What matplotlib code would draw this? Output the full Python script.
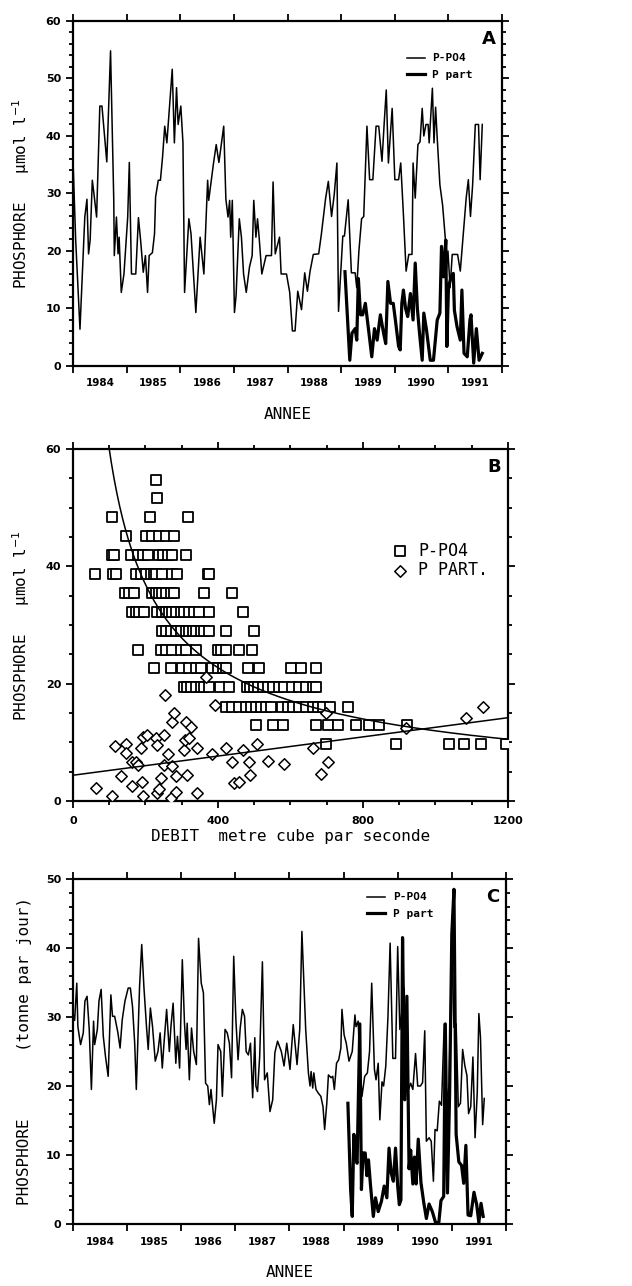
import numpy as np
import matplotlib
matplotlib.use('Agg')
import matplotlib.pyplot as plt
from matplotlib.ticker import MultipleLocator, FixedLocator, NullFormatter

# ---- Panel A : concentration (umol/l) vs time ----
a_po4_year = [1984.00, 1984.05, 1984.13, 1984.20, 1984.22, 1984.26, 1984.29, 1984.32, 1984.36, 1984.39,
              1984.44, 1984.46, 1984.50, 1984.54, 1984.63, 1984.70, 1984.76, 1984.77, 1984.81, 1984.84,
              1984.86, 1984.90, 1984.95, 1985.02, 1985.05, 1985.09, 1985.17, 1985.22, 1985.26, 1985.31,
              1985.35, 1985.39, 1985.42, 1985.48, 1985.52, 1985.54, 1985.59, 1985.63, 1985.67, 1985.71,
              1985.75, 1985.85, 1985.89, 1985.93, 1985.96, 1986.01, 1986.05, 1986.08, 1986.16, 1986.20,
              1986.29, 1986.37, 1986.44, 1986.51, 1986.53, 1986.62, 1986.67, 1986.72, 1986.81, 1986.85,
              1986.89, 1986.92, 1986.94, 1986.97, 1987.01, 1987.04, 1987.10, 1987.14, 1987.18, 1987.23,
              1987.29, 1987.34, 1987.37, 1987.41, 1987.44, 1987.47, 1987.52, 1987.60, 1987.70, 1987.73,
              1987.77, 1987.85, 1987.88, 1987.98, 1988.04, 1988.09, 1988.14, 1988.19, 1988.26, 1988.32,
              1988.37, 1988.42, 1988.48, 1988.58, 1988.63, 1988.71, 1988.76, 1988.82, 1988.87, 1988.92,
              1988.95, 1989.03, 1989.06, 1989.13, 1989.19, 1989.26, 1989.29, 1989.33, 1989.38, 1989.42,
              1989.48, 1989.53, 1989.59, 1989.65, 1989.70, 1989.76, 1989.80, 1989.84, 1989.88, 1989.95,
              1990.00, 1990.07, 1990.11, 1990.16, 1990.21, 1990.26, 1990.32, 1990.34, 1990.38, 1990.43,
              1990.47, 1990.51, 1990.54, 1990.58, 1990.62, 1990.64, 1990.66, 1990.70, 1990.73, 1990.76,
              1990.79, 1990.84, 1990.89, 1990.94, 1990.96, 1990.99, 1991.03, 1991.07, 1991.12, 1991.17,
              1991.22, 1991.28, 1991.33, 1991.37, 1991.41, 1991.45, 1991.50, 1991.56, 1991.59, 1991.63]
a_po4_val = [35.8, 21.9, 6.4, 21.9, 25.9, 29.0, 19.5, 21.9, 32.3, 30.0,
             25.9, 32.3, 45.2, 45.2, 35.5, 54.8, 28.8, 19.2, 25.9, 19.5,
             22.4, 12.8, 16.0, 25.9, 35.4, 16.0, 16.0, 25.8, 21.9, 16.3,
             19.2, 12.8, 19.2, 19.7, 23.0, 29.4, 32.3, 32.3, 36.4, 41.7,
             38.8, 51.6, 38.8, 48.4, 42.0, 45.2, 38.8, 12.8, 25.6, 23.0,
             9.3, 22.4, 16.0, 32.3, 28.8, 35.3, 38.5, 35.4, 41.7, 29.0,
             25.9, 28.8, 22.4, 28.8, 9.3, 12.2, 25.6, 22.4, 16.0, 12.8,
             17.2, 19.2, 28.8, 22.4, 25.6, 22.4, 16.0, 19.2, 19.2, 32.0,
             19.5, 22.4, 16.0, 16.0, 12.8, 6.1, 6.1, 13.0, 9.8, 16.2,
             13.0, 16.5, 19.4, 19.5, 22.9, 29.2, 32.1, 26.0, 29.8, 35.3,
             9.5, 22.6, 22.6, 28.9, 16.2, 16.2, 13.6, 20.0, 25.6, 26.0,
             41.7, 32.4, 32.4, 41.7, 41.7, 35.6, 42.0, 48.0, 35.3, 44.8,
             32.4, 32.4, 35.3, 26.3, 16.5, 19.4, 19.4, 35.3, 29.2, 38.5,
             39.0, 44.8, 40.0, 42.0, 42.0, 38.8, 42.0, 48.3, 38.8, 45.0,
             39.6, 31.5, 28.0, 22.3, 16.5, 20.0, 13.6, 19.4, 19.4, 19.4,
             16.5, 23.4, 29.2, 32.4, 26.0, 31.5, 42.0, 42.0, 32.4, 42.0]

a_part_year = [1989.07, 1989.16, 1989.20, 1989.26, 1989.29, 1989.32, 1989.36, 1989.40, 1989.45, 1989.51,
               1989.57, 1989.62, 1989.67, 1989.73, 1989.79, 1989.83, 1989.87, 1989.92, 1989.97, 1990.01,
               1990.07, 1990.10, 1990.13, 1990.16, 1990.20, 1990.24, 1990.29, 1990.34, 1990.38, 1990.42,
               1990.46, 1990.51, 1990.54, 1990.59, 1990.66, 1990.72, 1990.79, 1990.84, 1990.87, 1990.91,
               1990.95, 1990.97, 1991.00, 1991.05, 1991.09, 1991.11, 1991.16, 1991.22, 1991.25, 1991.29,
               1991.35, 1991.40, 1991.42, 1991.47, 1991.52, 1991.57, 1991.63]
a_part_val = [16.4, 1.0, 5.7, 6.5, 4.5, 15.2, 8.9, 8.9, 10.9, 6.3,
              1.6, 6.5, 4.5, 8.9, 5.7, 3.9, 14.7, 10.9, 10.9, 8.0,
              3.4, 2.8, 10.9, 13.2, 10.0, 8.6, 12.6, 8.0, 17.9, 10.0,
              5.7, 1.0, 9.2, 6.3, 1.0, 1.0, 8.0, 9.2, 20.8, 15.5,
              21.9, 3.4, 13.8, 15.5, 16.1, 9.7, 6.8, 4.5, 13.2, 2.2,
              1.6, 8.0, 8.9, 0.5, 6.5, 1.0, 2.2]

# ---- Panel B : concentration vs discharge ----
b_po4_debit = [228, 233, 107, 212, 317, 145, 201, 219, 238, 256, 279,
               109, 112, 159, 180, 193, 208, 236, 249, 261, 274, 311,
               61, 110, 118, 175, 187, 201, 215, 224, 230, 247, 274, 286, 373, 376,
               144, 155, 169, 219, 228, 238, 247, 256, 270, 279, 362, 440,
               164, 173, 182, 196, 233, 247, 256, 265, 274, 284, 297, 307, 320, 334, 348, 376, 468,
               247, 256, 270, 284, 297, 311, 320, 330, 339, 353, 362, 376, 422, 500,
               180, 242, 256, 274, 297, 311, 339, 399, 408, 422, 459, 495,
               224, 270, 302, 320, 339, 353, 385, 399, 413, 422, 482, 514, 601, 629, 670,
               307, 316, 325, 339, 353, 362, 376, 405, 431, 479, 488, 500, 510, 523, 537, 551,
               569, 583, 604, 624, 643, 663, 672,
               422, 440, 459, 477, 491, 505, 518, 532, 546, 578, 592, 606, 624, 643, 663, 676,
               690, 708, 759,
               505, 551, 580, 670, 703, 731, 781, 818, 845, 921,
               698, 892, 1039, 1080, 1126, 1195]
b_po4_conc = [54.8, 51.6, 48.4, 48.4, 48.4, 45.2, 45.2, 45.2, 45.2, 45.2, 45.2,
              41.9, 41.9, 41.9, 41.9, 41.9, 41.9, 41.9, 41.9, 41.9, 41.9, 41.9,
              38.7, 38.7, 38.7, 38.7, 38.7, 38.7, 38.7, 38.7, 38.7, 38.7, 38.7, 38.7, 38.7, 38.7,
              35.5, 35.5, 35.5, 35.5, 35.5, 35.5, 35.5, 35.5, 35.5, 35.5, 35.5, 35.5,
              32.3, 32.3, 32.3, 32.3, 32.3, 32.3, 32.3, 32.3, 32.3, 32.3, 32.3, 32.3, 32.3, 32.3, 32.3, 32.3, 32.3,
              29.0, 29.0, 29.0, 29.0, 29.0, 29.0, 29.0, 29.0, 29.0, 29.0, 29.0, 29.0, 29.0, 29.0,
              25.8, 25.8, 25.8, 25.8, 25.8, 25.8, 25.8, 25.8, 25.8, 25.8, 25.8, 25.8,
              22.6, 22.6, 22.6, 22.6, 22.6, 22.6, 22.6, 22.6, 22.6, 22.6, 22.6, 22.6, 22.6, 22.6, 22.6,
              19.4, 19.4, 19.4, 19.4, 19.4, 19.4, 19.4, 19.4, 19.4, 19.4, 19.4, 19.4, 19.4, 19.4, 19.4, 19.4,
              19.4, 19.4, 19.4, 19.4, 19.4, 19.4, 19.4,
              16.1, 16.1, 16.1, 16.1, 16.1, 16.1, 16.1, 16.1, 16.1, 16.1, 16.1, 16.1, 16.1, 16.1, 16.1, 16.1,
              16.1, 16.1, 16.1,
              12.9, 12.9, 12.9, 12.9, 12.9, 12.9, 12.9, 12.9, 12.9, 12.9,
              9.7, 9.7, 9.7, 9.7, 9.7, 9.7]

b_part_debit = [63, 107, 116, 132, 147, 145, 162, 164, 175, 180, 187, 190, 194, 194, 203,
                230, 233, 233, 238, 242, 251, 251, 254, 263, 270, 273, 274, 279, 284, 284,
                307, 309, 313, 316, 320, 325, 343, 343, 367, 383, 392, 422, 438, 445, 457,
                468, 486, 488, 507, 537, 583, 661, 684, 698, 703, 919, 1085, 1131]
b_part_conc = [2.3, 0.9, 9.4, 4.2, 9.8, 8.2, 6.7, 2.6, 6.7, 6.1, 9.0, 3.3, 0.9, 11.0, 11.3,
               10.7, 9.6, 1.4, 2.0, 3.9, 11.3, 6.1, 18.1, 8.1, 0.5, 5.9, 13.5, 15.0, 4.2, 1.6,
               8.7, 10.4, 13.5, 4.4, 10.7, 12.7, 9.0, 1.3, 21.2, 8.1, 16.4, 9.0, 6.7, 3.1, 3.3,
               8.7, 6.7, 4.4, 9.7, 6.9, 6.3, 9.0, 4.6, 15.0, 6.7, 12.4, 14.1, 16.0]

# fitted curves
po4_fit_coef, po4_fit_exp = 1507.0, -0.70      # C = a * Q^b
part_fit_icpt, part_fit_slope = 4.4, 0.00817   # C = a + b * Q

# ---- Panel C : flux (tonne/jour) vs time ----
c_po4_year = [1984.00, 1984.03, 1984.07, 1984.09, 1984.14, 1984.19, 1984.22, 1984.26, 1984.30, 1984.34,
              1984.38, 1984.40, 1984.45, 1984.48, 1984.52, 1984.56, 1984.60, 1984.65, 1984.70, 1984.73,
              1984.77, 1984.83, 1984.87, 1984.91, 1984.96, 1985.02, 1985.06, 1985.10, 1985.14, 1985.17,
              1985.23, 1985.27, 1985.31, 1985.36, 1985.39, 1985.43, 1985.47, 1985.52, 1985.57, 1985.61,
              1985.65, 1985.68, 1985.73, 1985.78, 1985.81, 1985.85, 1985.90, 1985.93, 1985.97, 1986.02,
              1986.06, 1986.09, 1986.11, 1986.15, 1986.19, 1986.23, 1986.28, 1986.32, 1986.37, 1986.41,
              1986.45, 1986.49, 1986.52, 1986.55, 1986.61, 1986.65, 1986.68, 1986.73, 1986.76, 1986.81,
              1986.85, 1986.89, 1986.93, 1986.97, 1987.01, 1987.05, 1987.09, 1987.13, 1987.17, 1987.20,
              1987.24, 1987.28, 1987.32, 1987.36, 1987.38, 1987.41, 1987.45, 1987.50, 1987.54, 1987.59,
              1987.64, 1987.69, 1987.73, 1987.78, 1987.85, 1987.90, 1987.95, 1988.01, 1988.07, 1988.14,
              1988.19, 1988.23, 1988.30, 1988.35, 1988.38, 1988.40, 1988.43, 1988.45, 1988.49, 1988.53,
              1988.58, 1988.62, 1988.65, 1988.69, 1988.72, 1988.77, 1988.80, 1988.83, 1988.87, 1988.91,
              1988.95, 1988.97, 1989.01, 1989.05, 1989.10, 1989.16, 1989.21, 1989.23, 1989.27, 1989.30,
              1989.34, 1989.39, 1989.44, 1989.48, 1989.52, 1989.57, 1989.60, 1989.64, 1989.67, 1989.71,
              1989.74, 1989.78, 1989.82, 1989.86, 1989.91, 1989.96, 1990.00, 1990.04, 1990.08, 1990.12,
              1990.16, 1990.20, 1990.24, 1990.28, 1990.33, 1990.37, 1990.42, 1990.46, 1990.50, 1990.53,
              1990.58, 1990.62, 1990.66, 1990.69, 1990.73, 1990.77, 1990.81, 1990.86, 1990.90, 1990.95,
              1991.00, 1991.04, 1991.08, 1991.12, 1991.16, 1991.20, 1991.24, 1991.28, 1991.31, 1991.35,
              1991.39, 1991.43, 1991.47, 1991.50, 1991.53, 1991.57, 1991.60]
c_po4_val = [30.6, 29.5, 34.9, 28.6, 26.0, 27.7, 32.3, 33.0, 28.2, 19.5,
             29.4, 26.0, 28.2, 32.3, 34.0, 27.2, 24.3, 21.4, 33.2, 30.1,
             30.1, 27.7, 25.5, 29.6, 32.3, 34.2, 34.2, 31.5, 26.2, 19.5,
             34.4, 40.5, 34.4, 28.4, 25.3, 31.3, 28.6, 23.6, 25.0, 27.7,
             22.6, 26.0, 31.1, 25.0, 28.6, 32.0, 23.3, 27.2, 22.6, 38.3,
             29.1, 25.3, 29.1, 20.9, 28.4, 25.0, 23.1, 41.4, 34.9, 33.5,
             20.4, 20.0, 17.3, 19.5, 14.6, 18.0, 26.0, 25.0, 18.5, 28.2,
             27.7, 26.2, 21.2, 38.8, 29.6, 23.8, 28.4, 31.1, 30.1, 25.0,
             24.5, 26.2, 18.3, 27.0, 20.0, 19.2, 24.3, 38.0, 20.9, 21.9,
             16.3, 18.0, 24.8, 26.5, 25.0, 22.9, 26.2, 22.4, 28.9, 23.1,
             28.2, 42.4, 28.2, 21.9, 20.0, 22.1, 19.7, 21.9, 19.5, 19.0,
             18.5, 17.0, 13.7, 17.5, 21.6, 21.2, 21.4, 19.5, 23.3, 23.8,
             25.5, 31.1, 27.4, 26.2, 23.6, 25.0, 30.3, 28.6, 29.4, 23.3,
             18.5, 21.4, 21.9, 25.0, 34.9, 22.4, 20.9, 23.3, 15.1, 20.6,
             20.0, 22.9, 30.0, 40.7, 24.0, 24.0, 40.2, 28.2, 31.0, 34.2,
             22.0, 19.5, 20.4, 19.5, 24.7, 20.0, 20.0, 20.5, 28.0, 12.0,
             12.5, 12.0, 6.2, 13.7, 13.5, 17.8, 17.2, 29.0, 18.0, 20.0,
             41.0, 28.5, 29.0, 17.0, 17.5, 25.3, 23.0, 21.5, 16.0, 17.0,
             24.2, 12.5, 19.0, 30.5, 27.0, 14.4, 18.2]

c_part_year = [1989.08, 1989.13, 1989.16, 1989.19, 1989.22, 1989.25, 1989.30, 1989.33, 1989.36, 1989.40,
               1989.43, 1989.46, 1989.50, 1989.55, 1989.59, 1989.64, 1989.70, 1989.75, 1989.80, 1989.84,
               1989.88, 1989.92, 1989.96, 1990.00, 1990.03, 1990.06, 1990.09, 1990.13, 1990.17, 1990.21,
               1990.24, 1990.28, 1990.31, 1990.34, 1990.38, 1990.43, 1990.48, 1990.53, 1990.58, 1990.64,
               1990.70, 1990.76, 1990.80, 1990.85, 1990.88, 1990.92, 1990.96, 1991.00, 1991.04, 1991.08,
               1991.13, 1991.18, 1991.22, 1991.26, 1991.30, 1991.35, 1991.41, 1991.46, 1991.50, 1991.54,
               1991.58]
c_part_val = [17.5, 5.0, 1.1, 13.0, 9.5, 8.8, 29.0, 5.0, 10.3, 10.3,
              7.0, 9.3, 5.4, 1.1, 3.8, 1.8, 3.3, 5.5, 3.8, 11.0,
              7.4, 6.2, 11.0, 5.5, 2.8, 3.5, 41.5, 18.0, 33.0, 8.0,
              10.7, 5.8, 9.7, 5.8, 12.3, 6.0, 3.2, 0.8, 2.9, 1.8,
              0.2, 0.2, 3.4, 4.0, 29.0, 4.5, 19.0, 42.0, 48.5, 13.0,
              9.0, 8.5, 5.9, 11.4, 1.3, 1.2, 4.6, 2.8, 0.2, 3.0,
              1.1]

years = [1984, 1985, 1986, 1987, 1988, 1989, 1990, 1991]

MONO = 'DejaVu Sans Mono'
plt.rcParams['font.family'] = ['DejaVu Sans']

fig = plt.figure(figsize=(6.32, 12.86), dpi=100)
axA = fig.add_axes([0.1155, 0.7154, 0.679, 0.2683])
axB = fig.add_axes([0.1155, 0.3771, 0.688, 0.2737])
axC = fig.add_axes([0.1155, 0.0482, 0.685, 0.2683])


def style_axes(ax):
    for s in ax.spines.values():
        s.set_linewidth(1.6)
    ax.tick_params(which='both', direction='out', top=True, right=True, width=1.3,
                   labelsize=8)
    ax.tick_params(which='major', length=5)
    ax.tick_params(which='minor', length=3)
    for lab in ax.get_xticklabels() + ax.get_yticklabels():
        lab.set_fontweight('bold')


def year_axis(ax, ymax, ystep, yminor):
    ax.set_xlim(1984, 1992)
    ax.set_ylim(0, ymax)
    ax.xaxis.set_major_locator(FixedLocator(list(range(1984, 1993))))
    ax.xaxis.set_major_formatter(NullFormatter())
    ax.xaxis.set_minor_locator(FixedLocator([y + 0.5 for y in years]))
    ax.set_xticklabels([str(y) for y in years], minor=True)
    ax.yaxis.set_major_locator(MultipleLocator(ystep))
    ax.yaxis.set_minor_locator(MultipleLocator(yminor))
    style_axes(ax)
    ax.tick_params(axis='x', which='minor', length=0, pad=9, labelsize=7.5)
    ax.tick_params(axis='x', which='major', length=5)
    for lab in ax.get_xticklabels(minor=True):
        lab.set_fontweight('bold')
    ax.set_xlabel('ANNEE', fontsize=11.5, family=MONO, labelpad=13)


# ---------------- A ----------------
axA.plot(a_po4_year, a_po4_val, color='black', lw=1.1, label='P-PO4')
axA.plot(a_part_year, a_part_val, color='black', lw=2.3, label='P part')
year_axis(axA, 60, 10, 2)
axA.set_ylabel('PHOSPHORE   µmol l$^{-1}$', fontsize=11.5, family=MONO)
axA.yaxis.set_label_coords(-0.095, 0.5)
axA.legend(loc='upper right', bbox_to_anchor=(0.955, 0.935), frameon=False, handlelength=1.6,
           handletextpad=0.7, labelspacing=0.55, prop={'family': MONO, 'size': 8, 'weight': 'bold'})
axA.text(0.985, 0.975, 'A', transform=axA.transAxes, ha='right', va='top',
         fontsize=13, fontweight='bold')

# ---------------- B ----------------
axB.scatter(b_po4_debit, b_po4_conc, marker='s', s=62, facecolors='white', edgecolors='black',
            linewidths=1.3, zorder=3, label='P-PO4')
axB.scatter(b_part_debit, b_part_conc, marker='D', s=34, facecolors='white', edgecolors='black',
            linewidths=1.1, zorder=3, label='P PART.')
q = np.linspace(60, 1200, 300)
axB.plot(q, po4_fit_coef * q ** po4_fit_exp, color='black', lw=1.1, zorder=4)
q2 = np.array([0, 1200])
axB.plot(q2, part_fit_icpt + part_fit_slope * q2, color='black', lw=1.1, zorder=4)
axB.set_xlim(0, 1200)
axB.set_ylim(0, 60)
axB.xaxis.set_major_locator(MultipleLocator(400))
axB.xaxis.set_minor_locator(MultipleLocator(100))
axB.yaxis.set_major_locator(MultipleLocator(20))
axB.yaxis.set_minor_locator(MultipleLocator(5))
style_axes(axB)
axB.tick_params(axis='x', pad=6)
axB.set_ylabel('PHOSPHORE   µmol l$^{-1}$', fontsize=11.5, family=MONO)
axB.yaxis.set_label_coords(-0.094, 0.5)
axB.set_xlabel('DEBIT  metre cube par seconde', fontsize=11.5, family=MONO, labelpad=2)
axB.legend(loc='upper right', bbox_to_anchor=(0.99, 0.78), frameon=False, handlelength=1.0,
           handletextpad=0.6, labelspacing=0.1, prop={'family': MONO, 'size': 12})
axB.text(0.985, 0.975, 'B', transform=axB.transAxes, ha='right', va='top',
         fontsize=13, fontweight='bold')

# ---------------- C ----------------
axC.plot(c_po4_year, c_po4_val, color='black', lw=1.1, label='P-PO4')
axC.plot(c_part_year, c_part_val, color='black', lw=2.3, label='P part')
year_axis(axC, 50, 10, 2)
axC.set_ylabel('PHOSPHORE       (tonne par jour)', fontsize=11.5, family=MONO)
axC.yaxis.set_label_coords(-0.094, 0.5)
axC.legend(loc='upper right', bbox_to_anchor=(0.855, 0.99), frameon=False, handlelength=1.6,
           handletextpad=0.7, labelspacing=0.55, prop={'family': MONO, 'size': 8, 'weight': 'bold'})
axC.text(0.985, 0.975, 'C', transform=axC.transAxes, ha='right', va='top',
         fontsize=13, fontweight='bold')

fig.savefig('out.png', dpi=100)
